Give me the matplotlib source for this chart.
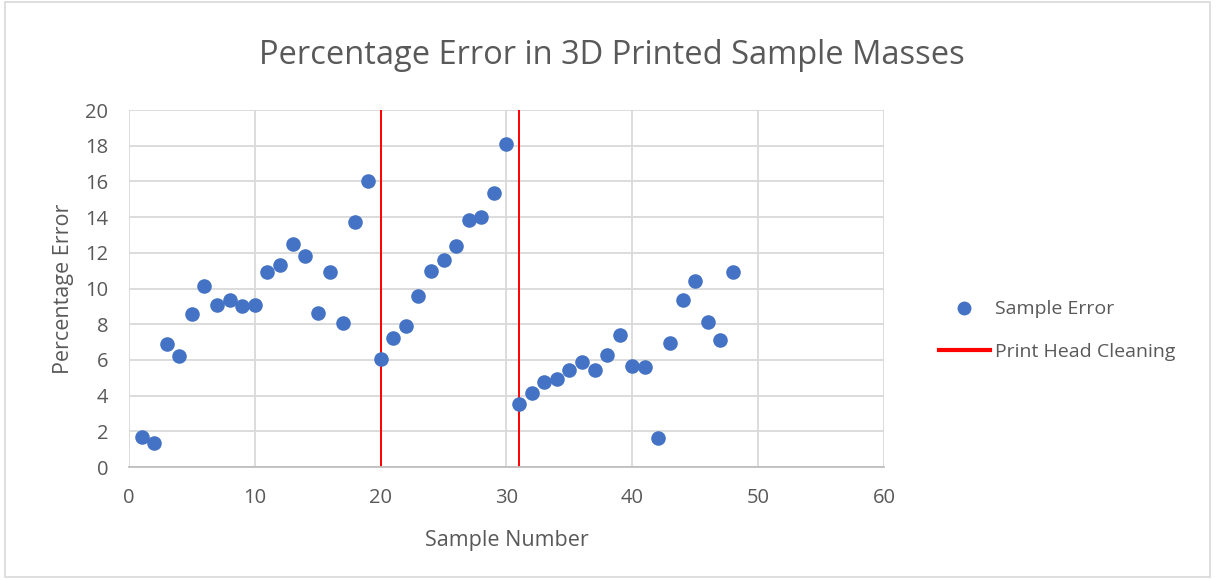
import matplotlib.pyplot as plt
from matplotlib.lines import Line2D
from matplotlib.patches import Rectangle

plt.rcParams['font.family'] = ['Open Sans', 'DejaVu Sans']

sample_num = list(range(1, 49))
pct_error = [1.7, 1.35, 6.9, 6.2, 8.6, 10.15, 9.05, 9.35, 9.0, 9.1,
             10.95, 11.3, 12.5, 11.8, 8.65, 10.9, 8.05, 13.7, 16.05, 6.05,
             7.2, 7.9, 9.6, 11.0, 11.6, 12.4, 13.85, 14.0, 15.35, 18.1,
             3.55, 4.15, 4.75, 4.95, 5.45, 5.9, 5.45, 6.3, 7.4, 5.65,
             5.6, 1.6, 6.95, 9.35, 10.4, 8.15, 7.1, 10.9]
cleaning_at = [20, 31]

txt = '#595959'
grid_c = '#d9d9d9'

fig = plt.figure(figsize=(12.19, 5.8), dpi=100)
fig.patches.append(Rectangle((0.004, 0.006), 0.989, 0.99, transform=fig.transFigure,
                             fill=False, edgecolor='#d9d9d9', linewidth=1.2))
ax = fig.add_axes([0.1058, 0.1948, 0.6194, 0.6155])

ax.scatter(sample_num, pct_error, s=110, color='#4472c4', zorder=3, linewidths=0)
for xc in cleaning_at:
    ax.axvline(xc, color='#ff0000', linewidth=1.4, zorder=2)

ax.set_xlim(0, 60)
ax.set_ylim(0, 20)
ax.set_xticks(range(0, 61, 10))
ax.set_yticks(range(0, 21, 2))
ax.grid(True, color=grid_c, linewidth=1.3, zorder=0)
ax.set_axisbelow(True)
for s in ['top', 'right', 'left']:
    ax.spines[s].set_visible(False)
ax.spines['bottom'].set_color('#bfbfbf')
ax.spines['bottom'].set_linewidth(1.3)
ax.tick_params(axis='x', length=0, labelsize=14.5, labelcolor=txt, pad=15)
ax.tick_params(axis='y', length=0, labelsize=14.5, labelcolor=txt, pad=15)

fig.suptitle('Percentage Error in 3D Printed Sample Masses', fontsize=23.5, color=txt,
             x=0.502, y=0.905, va='center')
ax.set_xlabel('Sample Number', fontsize=15.5, color=txt, labelpad=16)
ax.set_ylabel('Percentage Error', fontsize=15.5, color=txt, labelpad=8)

handles = [Line2D([], [], linestyle='none', marker='o', markersize=10,
                  color='#4472c4', markeredgewidth=0),
           Line2D([], [], color='#ff0000', linewidth=3)]
fig.legend(handles, ['Sample Error', 'Print Head Cleaning'], loc='center left',
           bbox_to_anchor=(0.756, 0.43), frameon=False, fontsize=14,
           labelcolor=txt, handlelength=2.6, handletextpad=0.3, labelspacing=1.25)

fig.savefig('out.png', dpi=100)
